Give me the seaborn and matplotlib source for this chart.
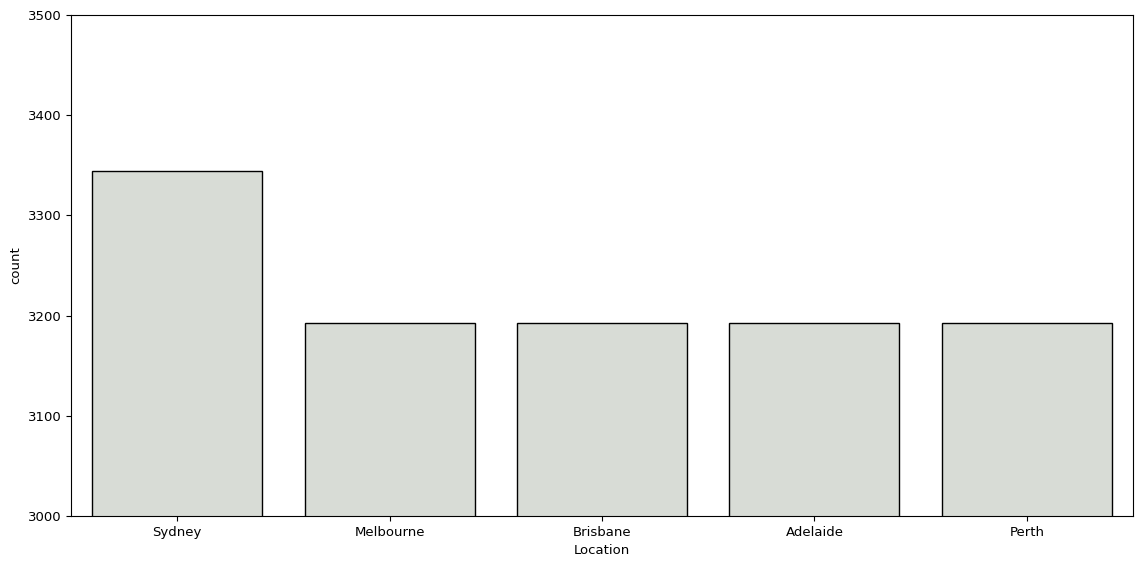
import pandas as pd
import matplotlib
matplotlib.use('Agg')
import matplotlib.pyplot as plt
import seaborn as sns

# Counts per location
locations = ['Sydney', 'Melbourne', 'Brisbane', 'Adelaide', 'Perth']
counts = [3344, 3193, 3193, 3193, 3193]

df = pd.DataFrame({'Location': locations, 'count': counts})

plt.rcParams['font.size'] = 9.5

fig, ax = plt.subplots(figsize=(11.42, 5.66), dpi=100)
sns.barplot(data=df, x='Location', y='count', color='xkcd:light grey',
            saturation=1, edgecolor='black', linewidth=1, ax=ax)
ax.set_ylim(3000, 3500)
ax.set_xlabel('Location')
ax.set_ylabel('count')
plt.subplots_adjust(left=0.0622, right=0.9921, top=0.9735, bottom=0.0883)
plt.savefig('out.png', dpi=100)
plt.close()
